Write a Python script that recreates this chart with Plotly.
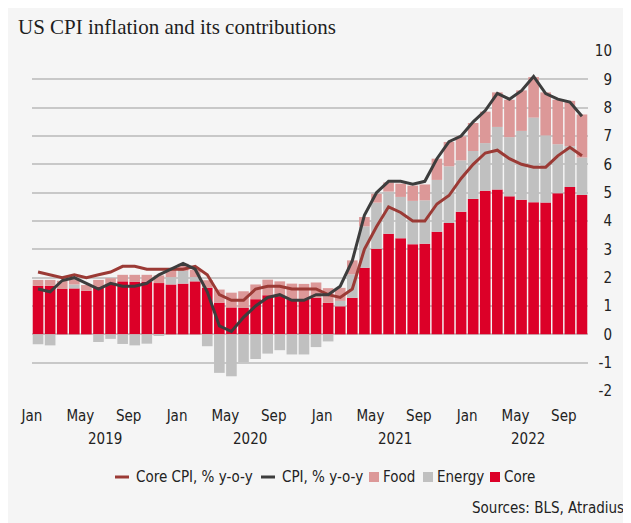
import plotly.graph_objects as go

# ---------------- data ----------------
months = [f"{m} {y}" for y in (2019, 2020, 2021, 2022)
          for m in ("Jan", "Feb", "Mar", "Apr", "May", "Jun", "Jul", "Aug", "Sep", "Oct", "Nov", "Dec")][:46]

core_contrib = [1.71, 1.71, 1.60, 1.62, 1.54, 1.68, 1.76, 1.87, 1.85, 1.86, 1.81, 1.76,
                1.79, 1.87, 1.64, 1.12, 0.95, 0.93, 1.24, 1.38, 1.35, 1.24, 1.24, 1.29,
                1.11, 0.99, 1.29, 2.35, 3.02, 3.55, 3.39, 3.18, 3.20, 3.62, 3.93, 4.33,
                4.78, 5.07, 5.11, 4.87, 4.75, 4.66, 4.65, 4.98, 5.20, 4.92]
energy_contrib = [-0.35, -0.39, 0.00, 0.14, 0.00, -0.27, -0.16, -0.34, -0.39, -0.33, -0.04, 0.26,
                  0.45, 0.15, -0.42, -1.36, -1.48, -0.98, -0.87, -0.68, -0.56, -0.71, -0.71, -0.45,
                  -0.25, 0.19, 0.83, 1.46, 1.63, 1.49, 1.46, 1.53, 1.53, 1.83, 2.00, 1.81,
                  1.69, 1.68, 2.21, 2.09, 2.43, 2.99, 2.37, 1.73, 1.44, 1.32]
food_contrib = [0.21, 0.21, 0.29, 0.18, 0.20, 0.24, 0.22, 0.23, 0.25, 0.24, 0.27, 0.25,
                0.25, 0.26, 0.27, 0.46, 0.52, 0.59, 0.52, 0.55, 0.52, 0.55, 0.54, 0.54,
                0.52, 0.46, 0.49, 0.33, 0.31, 0.32, 0.47, 0.54, 0.56, 0.75, 0.86, 0.85,
                0.99, 1.11, 1.22, 1.32, 1.43, 1.43, 1.52, 1.57, 1.60, 1.52]
core_cpi = [2.2, 2.1, 2.0, 2.1, 2.0, 2.1, 2.2, 2.4, 2.4, 2.3, 2.3, 2.3,
            2.3, 2.4, 2.1, 1.4, 1.2, 1.2, 1.6, 1.7, 1.7, 1.6, 1.6, 1.6,
            1.4, 1.3, 1.6, 3.0, 3.8, 4.5, 4.3, 4.0, 4.0, 4.6, 4.9, 5.5,
            6.0, 6.4, 6.5, 6.2, 6.0, 5.9, 5.9, 6.3, 6.6, 6.3]
cpi = [1.6, 1.5, 1.9, 2.0, 1.8, 1.6, 1.8, 1.7, 1.7, 1.8, 2.1, 2.3,
       2.5, 2.3, 1.5, 0.3, 0.1, 0.6, 1.0, 1.3, 1.4, 1.2, 1.2, 1.4,
       1.4, 1.7, 2.6, 4.2, 5.0, 5.4, 5.4, 5.3, 5.4, 6.2, 6.8, 7.0,
       7.5, 7.9, 8.5, 8.3, 8.6, 9.1, 8.5, 8.3, 8.2, 7.7]

tick_months = ["Jan", "May", "Sep"]
years = ["2019", "2020", "2021", "2022"]
y_ticks = list(range(-2, 11))
y_ticklabels = [str(v) for v in y_ticks]

title = "US CPI inflation and its contributions"
source = "Sources: BLS, Atradius"
legend_items = [("Core CPI, % y-o-y", "line", "#9b3a35"),
                ("CPI, % y-o-y", "line", "#3d3d3d"),
                ("Food", "box", "#dc9898"),
                ("Energy", "box", "#c0c0c0"),
                ("Core", "box", "#dc0028")]

# ---------------- styles ----------------
C_CORE, C_ENERGY, C_FOOD = "#dc0028", "#c0c0c0", "#dc9898"
C_CORELINE, C_CPILINE = "#9b3a35", "#3d3d3d"
FONT = "DejaVu Sans Condensed, DejaVu Sans, sans-serif"
OFF = 8                      # page body margin
W, H = 631 - OFF, 523 - OFF
ML, MR, MT, MB = 24, 16, 43, 132
PW, PH = W - ML - MR, H - MT - MB
XDOM = 556 / PW


def px(p):   # page x pixel -> paper coordinate
    return (p - OFF - ML) / PW


def py(p):   # page y pixel -> paper coordinate
    return (H - MB - (p - OFF)) / PH


x = list(range(len(months)))

fig = go.Figure()
fig.add_bar(x=x, y=core_contrib, name="Core", marker=dict(color=C_CORE, line=dict(width=0)))
fig.add_bar(x=x, y=energy_contrib, name="Energy", marker=dict(color=C_ENERGY, line=dict(width=0)))
fig.add_bar(x=x, y=food_contrib, name="Food", marker=dict(color=C_FOOD, line=dict(width=0)))
fig.add_scatter(x=x, y=core_cpi, mode="lines", name="Core CPI, % y-o-y",
                line=dict(color=C_CORELINE, width=3))
fig.add_scatter(x=x, y=cpi, mode="lines", name="CPI, % y-o-y",
                line=dict(color=C_CPILINE, width=3))

tickvals = [i - 0.5 for i, m in enumerate(months) if m.split()[0] in tick_months]
ticktext = [m.split()[0] for m in months if m.split()[0] in tick_months]

shapes = []
annotations = [dict(text=title, xref="paper", yref="paper", x=px(16), y=py(27),
                    xanchor="left", yanchor="middle", showarrow=False,
                    font=dict(family="Liberation Serif, serif", size=21, color="#1e1e1e")),
               dict(text=source, xref="paper", yref="paper", x=px(626), y=py(508),
                    xanchor="right", yanchor="middle", showarrow=False,
                    font=dict(family=FONT, size=15, color="#222"))]

for yr in years:
    idx = [i for i, m in enumerate(months) if m.endswith(yr)]
    annotations.append(dict(text=yr, xref="x", yref="paper", x=(idx[0] + idx[-1]) / 2,
                            y=py(439), xanchor="center", yanchor="middle", showarrow=False,
                            font=dict(family=FONT, size=15, color="#222")))

# custom legend
leg_pos = [(115, 134), (261, 280), (369, 381), (423, 435), (490, 502)]
ly = 477
for (name, kind, col), (sx, tx) in zip(legend_items, leg_pos):
    if kind == "line":
        shapes.append(dict(type="line", xref="paper", yref="paper", x0=px(sx), x1=px(sx + 14),
                           y0=py(ly), y1=py(ly), line=dict(color=col, width=3)))
    else:
        shapes.append(dict(type="rect", xref="paper", yref="paper", x0=px(sx), x1=px(sx + 10),
                           y0=py(ly + 5), y1=py(ly - 5), fillcolor=col, line=dict(width=0)))
    annotations.append(dict(text=name, xref="paper", yref="paper", x=px(tx), y=py(ly),
                            xanchor="left", yanchor="middle", showarrow=False,
                            font=dict(family=FONT, size=15, color="#222")))

fig.update_layout(
    width=W, height=H, margin=dict(l=ML, r=MR, t=MT, b=MB),
    paper_bgcolor="#f5f5f5", plot_bgcolor="rgba(0,0,0,0)",
    barmode="relative", bargap=0.12, showlegend=False,
    font=dict(family=FONT, size=15, color="#222"),
    xaxis=dict(domain=[0, XDOM], range=[-0.5, len(months) - 0.5], showgrid=False,
               zeroline=False, showline=False, ticks="", tickvals=tickvals, ticktext=ticktext,
               ticklabelstandoff=14, tickfont=dict(family=FONT, size=15, color="#222")),
    yaxis=dict(range=[-2, 10], tickvals=y_ticks, ticktext=y_ticklabels,
               anchor="free", position=1, side="left",
               showgrid=True, gridcolor="#c8c8c8", gridwidth=1.5, zeroline=False,
               showline=False, ticks="", ticklabelstandoff=3,
               tickfont=dict(family=FONT, size=15, color="#222")),
    shapes=shapes, annotations=annotations,
)

fig.write_html("out.html")
